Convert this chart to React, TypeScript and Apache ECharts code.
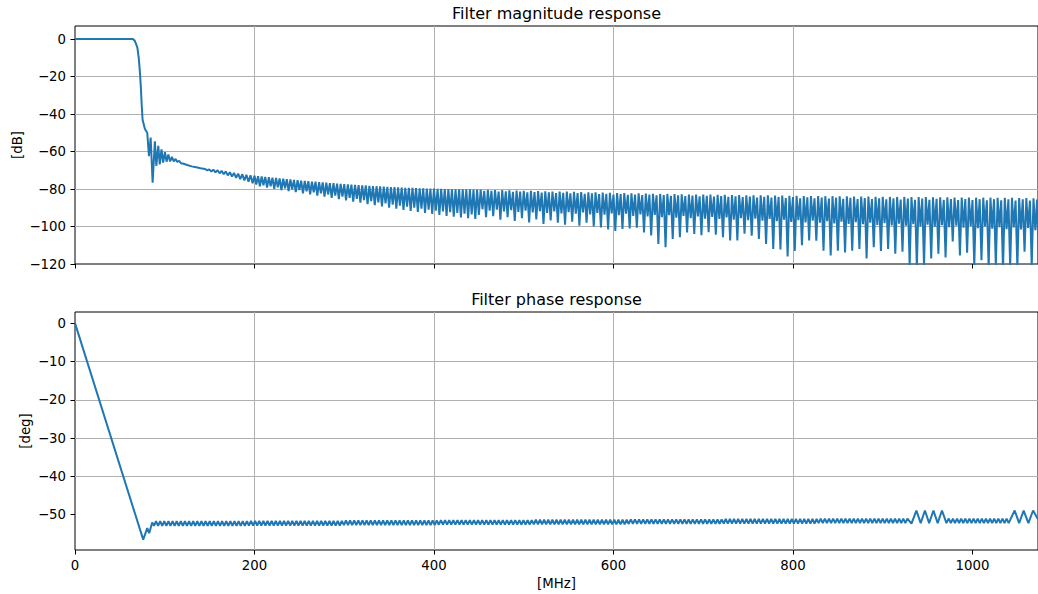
import { useEffect, useRef } from "react";
import * as echarts from "echarts";

const FONT = "DejaVu Sans";
const BLUE = "#1f77b4";

// ---------- tick labels ----------
const freqTicks = [0, 200, 400, 600, 800, 1000];
const dbTicks = [-120, -100, -80, -60, -40, -20, 0];
const degTicks = [-50, -40, -30, -20, -10, 0];

// ---------- magnitude response [dB] ----------
const magHeadFreq = [0, 20, 40, 60, 64.5, 66.5, 68, 69.5, 71, 72.4, 73.4, 74.2, 75.3, 77.9, 80.5, 82.4, 84.3, 86.5, 89, 90.6, 92.8, 94.4, 96.4, 98.2, 100.2, 102, 104, 106, 108, 110, 112, 114, 116, 118, 121, 125, 130, 135, 140, 145];
const magHeadDb = [0, 0, 0, 0, 0, -0.8, -2.5, -4.5, -10, -18, -26, -34, -43, -48, -50, -62.4, -52.5, -76.6, -54.5, -67.7, -57, -66.8, -58.8, -65.9, -60.3, -65.4, -61.6, -65.3, -62.8, -65.3, -63.9, -65.6, -64.9, -66.2, -66.5, -67.2, -67.9, -68.4, -68.9, -69.3];

// ripple segment A: starts 147.3 MHz, alternate trough/peak every 2.3 MHz
const magRippleA = [-70.0, -69.5, -70.6, -69.7, -71.1, -70.0, -71.6, -70.3, -72.1, -70.6, -72.7, -71.0, -73.3, -71.4, -74.0, -71.8, -74.7, -72.1, -75.4, -72.4, -76.1, -72.7, -76.9];

// ripple segment B: peaks at 200 + 4k, troughs at 202 + 4k
const magPeaksB = [
  -72.9, -73.1, -73.3, -73.5, -73.7, -73.9, -74.1, -74.3, -74.5, -74.7, -74.9, -75.1, -75.3, -75.5, -75.6, -75.8,
  -76.0, -76.1, -76.3, -76.5, -76.6, -76.8, -76.9, -77.1, -77.2, -77.4, -77.5, -77.6, -77.8, -77.9, -78.0, -78.1,
  -78.3, -78.4, -78.5, -78.6, -78.7, -78.8, -78.9, -79.0, -79.1, -79.2, -79.3, -79.3, -79.4, -79.5, -79.6, -79.6,
  -79.7, -79.8, -79.8, -79.9, -79.9, -80.0, -80.0, -80.1, -80.1, -80.1, -80.2, -80.2, -80.2, -80.3, -80.3,
];
const magTroughsB = [
  -77.6, -78.6, -78.0, -79.2, -78.6, -79.9, -79.1, -80.5, -79.6, -81.1, -80.1, -81.7, -80.6, -82.3, -81.2, -82.9,
  -81.7, -83.5, -82.3, -84.1, -82.9, -84.7, -83.5, -85.4, -84.1, -86.0, -84.7, -86.7, -85.3, -87.3, -85.9, -88.0,
  -86.5, -88.6, -87.1, -89.3, -87.7, -89.9, -88.3, -90.5, -88.9, -91.1, -89.4, -91.7, -90.0, -92.2, -90.5, -92.8,
  -91.0, -93.3, -91.5, -93.8, -92.0, -94.3, -92.4, -94.8, -92.8, -95.2, -93.2, -95.6, -93.5, -96.0, -93.8,
];

// ripple segment C (8 MHz cycles from 452 MHz): peak, mid trough, second peak, deep trough
const magPeaksC = [
  -80.3, -80.4, -80.5, -80.6, -80.7, -80.8, -80.9, -81.0, -81.1, -81.2, -81.3, -81.4, -81.4, -81.5, -81.6, -81.7, -81.8, -81.9,
  -82.0, -82.1, -82.2, -82.3, -82.3, -82.4, -82.5, -82.6, -82.6, -82.7, -82.8, -82.9,
  -82.9, -83.0, -83.0, -83.1, -83.1, -83.2, -83.2, -83.3, -83.3, -83.4, -83.4, -83.5,
  -83.5, -83.6, -83.6, -83.7, -83.7, -83.8, -83.8, -83.8, -83.9, -83.9, -84.0, -84.0,
  -84.0, -84.1, -84.1, -84.2, -84.2, -84.2, -84.3, -84.3, -84.3, -84.4, -84.4, -84.4,
  -84.5, -84.5, -84.5, -84.6, -84.6, -84.6, -84.7, -84.7, -84.7, -84.8, -84.8, -84.9,
];
const magMidTroughsC = [
  -90.8, -91.6, -91.0, -92.0, -91.3, -92.2, -91.5, -92.5, -91.8, -92.8, -92.0, -93.0, -92.3, -93.2, -92.5, -93.5, -92.8, -93.7,
  -93.0, -94.0, -93.2, -94.3, -93.5, -94.6, -93.8, -95.0, -94.0, -95.3, -94.3, -95.5,
  -94.6, -95.8, -94.9, -96.0, -95.2, -96.3, -95.5, -96.6, -95.8, -96.9, -96.0, -97.2,
  -96.3, -97.5, -96.6, -97.8, -96.9, -98.0, -97.2, -98.3, -97.4, -98.6, -97.7, -98.8,
  -98.0, -99.1, -98.2, -99.4, -98.5, -99.6, -98.8, -99.9, -99.0, -100.1, -99.3, -100.4,
  -99.5, -100.6, -99.8, -100.9, -100.0, -101.1, -100.3, -101.4, -100.5, -101.6, -100.8, -101.9,
];
const magPeaks2C = [
  -81.0, -80.9, -81.3, -81.2, -81.5, -81.4, -81.8, -81.6, -81.9, -81.8, -82.2, -82.0, -82.3, -82.1, -82.5, -82.3, -82.7, -82.5,
  -82.9, -82.7, -83.1, -82.9, -83.2, -83.0, -83.4, -83.2, -83.6, -83.3, -83.7, -83.5,
  -83.9, -83.6, -84.0, -83.8, -84.2, -83.9, -84.3, -84.0, -84.5, -84.1, -84.6, -84.2,
  -84.8, -84.3, -84.9, -84.4, -85.0, -84.5, -85.1, -84.6, -85.2, -84.7, -85.3, -84.8,
  -85.4, -84.9, -85.5, -85.0, -85.6, -85.1, -85.7, -85.1, -85.7, -85.2, -85.8, -85.3,
  -85.9, -85.3, -85.9, -85.4, -86.0, -85.4, -86.0, -85.5, -86.1, -85.5, -86.1, -85.6,
];
const magDeepTroughsC = [
  -95.0, -94.5, -96.3, -95.0, -97.0, -95.6, -97.8, -96.2, -98.6, -96.8,
  -98.0, -99.0, -97.4, -99.5, -98.0, -100.0, -100.5, -101.5, -102.3, -101.3,
  -101.0, -100.6, -103.2, -104.8, -109.3, -111.0, -106.6, -105.7, -103.2, -104.0,
  -104.6, -103.0, -104.4, -105.7, -107.5, -107.4, -103.8, -104.9, -106.6, -109.3,
  -112.0, -112.3, -116.0, -113.0, -110.0, -107.5, -107.6, -112.9, -115.5, -112.9,
  -113.8, -112.9, -112.0, -117.0, -111.0, -113.0, -112.0, -114.5, -113.5, -121.0,
  -122.0, -121.0, -117.0, -114.5, -116.5, -108.0, -115.5, -114.0, -121.0, -118.0,
  -122.0, -121.0, -123.0, -121.5, -122.0, -113.5, -121.0, -122.0,
];

// ---------- phase response [deg] ----------
const phaseHeadFreq = [0, 76, 80.5, 82.7, 86];
const phaseHeadDeg = [0, -56.5, -53.5, -54.8, -52.0];

// segment 1: lows at 88 + 4.6k, highs at 90.3 + 4.6k
const phaseLows1 = [
  -52.9, -52.9, -52.9, -52.9, -52.9, -52.9, -52.9, -52.9, -52.9, -52.9, -52.9, -52.9, -52.9, -52.9, -52.9, -52.9, -52.9, -52.9, -52.9, -52.9, -52.9, -52.9, -52.9,
  -52.8, -52.8, -52.8, -52.8, -52.8, -52.8, -52.8, -52.8, -52.8, -52.8, -52.8, -52.8, -52.8, -52.8, -52.8, -52.8, -52.8, -52.8, -52.8, -52.8, -52.8, -52.8, -52.8,
  -52.7, -52.7, -52.7, -52.7, -52.7, -52.7, -52.7, -52.7, -52.7, -52.7, -52.7, -52.7, -52.7, -52.7, -52.7, -52.7, -52.7, -52.7, -52.7, -52.7, -52.7, -52.7, -52.7,
  -52.6, -52.6, -52.6, -52.6, -52.6, -52.6, -52.6, -52.6, -52.6, -52.6, -52.6, -52.6, -52.6, -52.6, -52.6, -52.6, -52.6, -52.6, -52.6, -52.6, -52.6, -52.6, -52.6,
  -52.5, -52.5, -52.5, -52.5, -52.5, -52.5, -52.5, -52.5, -52.5, -52.5, -52.5, -52.5, -52.5, -52.5, -52.5, -52.5, -52.5, -52.5, -52.5, -52.5, -52.5, -52.5, -52.5,
  -52.4, -52.4, -52.4, -52.4, -52.4, -52.4, -52.4, -52.4, -52.4, -52.4, -52.4, -52.4, -52.4, -52.4, -52.4, -52.4, -52.4, -52.4, -52.4, -52.4, -52.4, -52.4, -52.4,
  -52.3, -52.3, -52.3, -52.3, -52.3, -52.3, -52.3, -52.3, -52.3, -52.3, -52.3, -52.3, -52.3, -52.3, -52.3, -52.3, -52.3, -52.3, -52.3, -52.3, -52.3, -52.3, -52.3,
  -52.2, -52.2, -52.2, -52.2, -52.2, -52.2, -52.2, -52.2, -52.2, -52.2, -52.2, -52.2, -52.2, -52.2, -52.2, -52.2, -52.2, -52.2, -52.2, -52.2, -52.2, -52.2,
];
const phaseHighs1 = [
  -51.7, -51.7, -51.7, -51.7, -51.7, -51.7, -51.7, -51.7, -51.7, -51.7, -51.7, -51.7, -51.7, -51.7, -51.7, -51.7, -51.7, -51.7, -51.7, -51.7, -51.7, -51.7, -51.7,
  -51.6, -51.6, -51.6, -51.6, -51.6, -51.6, -51.6, -51.6, -51.6, -51.6, -51.6, -51.6, -51.6, -51.6, -51.6, -51.6, -51.6, -51.6, -51.6, -51.6, -51.6, -51.6, -51.6,
  -51.5, -51.5, -51.5, -51.5, -51.5, -51.5, -51.5, -51.5, -51.5, -51.5, -51.5, -51.5, -51.5, -51.5, -51.5, -51.5, -51.5, -51.5, -51.5, -51.5, -51.5, -51.5, -51.5,
  -51.4, -51.4, -51.4, -51.4, -51.4, -51.4, -51.4, -51.4, -51.4, -51.4, -51.4, -51.4, -51.4, -51.4, -51.4, -51.4, -51.4, -51.4, -51.4, -51.4, -51.4, -51.4, -51.4,
  -51.3, -51.3, -51.3, -51.3, -51.3, -51.3, -51.3, -51.3, -51.3, -51.3, -51.3, -51.3, -51.3, -51.3, -51.3, -51.3, -51.3, -51.3, -51.3, -51.3, -51.3, -51.3, -51.3,
  -51.2, -51.2, -51.2, -51.2, -51.2, -51.2, -51.2, -51.2, -51.2, -51.2, -51.2, -51.2, -51.2, -51.2, -51.2, -51.2, -51.2, -51.2, -51.2, -51.2, -51.2, -51.2, -51.2,
  -51.1, -51.1, -51.1, -51.1, -51.1, -51.1, -51.1, -51.1, -51.1, -51.1, -51.1, -51.1, -51.1, -51.1, -51.1, -51.1, -51.1, -51.1, -51.1, -51.1, -51.1, -51.1, -51.1,
  -51.0, -51.0, -51.0, -51.0, -51.0, -51.0, -51.0, -51.0, -51.0, -51.0, -51.0, -51.0, -51.0, -51.0, -51.0, -51.0, -51.0, -51.0, -51.0, -51.0, -51.0, -51.0,
];
// first burst of larger ripples
const phaseBurst1Freq = [932, 937.5, 942.3, 947, 951.7, 956.5, 961.2, 966, 971];
const phaseBurst1Deg = [-52.3, -48.9, -52.2, -48.9, -52.2, -48.9, -52.2, -48.9, -52.2];
// segment 2: highs at 973.6 + 4.6k, lows at 975.9 + 4.6k
const phaseHighs2 = [-51.0, -51.0, -51.0, -51.0, -51.0, -51.0, -51.0, -51.0, -51.0, -51.0, -51.0, -51.0, -51.0, -51.0, -51.0];
const phaseLows2 = [-52.2, -52.2, -52.2, -52.2, -52.2, -52.2, -52.2, -52.2, -52.2, -52.2, -52.2, -52.2, -52.2, -52.2, -52.2];
// second burst
const phaseBurst2Freq = [1047, 1052, 1057, 1062.3, 1067.5, 1073];
const phaseBurst2Deg = [-48.9, -52.2, -48.9, -52.2, -48.9, -51.2];

// ---------- builders ----------
const pairs = (xs: number[], ys: number[]) => xs.map((x, i) => [x, ys[i]]);
const interleave = (...lists: number[][]) => {
  const out: number[] = [];
  const n = Math.max(...lists.map((l) => l.length));
  for (let i = 0; i < n; i++) {
    for (const l of lists) if (i < l.length) out.push(l[i]);
  }
  return out;
};
const evenly = (start: number, step: number, vals: number[]) => vals.map((v, i) => [start + i * step, v]);

const magData = [
  ...pairs(magHeadFreq, magHeadDb),
  ...evenly(147.3, 2.3, magRippleA),
  ...evenly(200, 2, interleave(magPeaksB, magTroughsB)),
  ...evenly(452, 2, interleave(magPeaksC, magMidTroughsC, magPeaks2C, magDeepTroughsC)),
];
const phaseData = [
  ...pairs(phaseHeadFreq, phaseHeadDeg),
  ...evenly(88, 2.3, interleave(phaseLows1, phaseHighs1)),
  ...pairs(phaseBurst1Freq, phaseBurst1Deg),
  ...evenly(973.6, 2.3, interleave(phaseHighs2, phaseLows2)),
  ...pairs(phaseBurst2Freq, phaseBurst2Deg),
];

const fmt = (v: number) => String(v).replace("-", "\u2212");

const xAxisBase = (gridIndex: number, showLabels: boolean) => ({
  type: "value" as const,
  gridIndex,
  min: 0,
  max: 1073,
  interval: 200,
  axisLine: { show: false, onZero: false },
  axisTick: { show: true, length: 4.5, customValues: freqTicks, lineStyle: { color: "#000", width: 1 } },
  axisLabel: {
    show: showLabels,
    customValues: freqTicks,
    margin: 9,
    fontFamily: FONT,
    fontSize: 13.3,
    color: "#000",
    formatter: fmt,
  },
  splitLine: { show: true, showMinLine: false, showMaxLine: false, lineStyle: { color: "#b0b0b0", width: 1 } },
});

const yAxisBase = (gridIndex: number, min: number, max: number, step: number, ticks: number[], name: string, nameGap: number) => ({
  type: "value" as const,
  gridIndex,
  min,
  max,
  splitNumber: 6,
  minInterval: step,
  maxInterval: step,
  name,
  nameLocation: "middle" as const,
  nameGap,
  nameMoveOverlap: false,
  nameTextStyle: { fontFamily: FONT, fontSize: 13.3, color: "#000" },
  axisLine: { show: false, onZero: false },
  axisTick: { show: true, length: 4.5, customValues: ticks, lineStyle: { color: "#000", width: 1 } },
  axisLabel: {
    customValues: ticks,
    margin: 9,
    fontFamily: FONT,
    fontSize: 13.3,
    color: "#000",
    formatter: fmt,
  },
  splitLine: { show: true, showMinLine: false, showMaxLine: false, lineStyle: { color: "#b0b0b0", width: 1 } },
});

export default function App() {
  const ref = useRef<HTMLDivElement>(null);
  useEffect(() => {
    if (!ref.current) return;
    const chart = echarts.init(ref.current, null, { renderer: "svg" });
    chart.setOption({
      animation: false,
      backgroundColor: "#fff",
      grid: [
        { left: 75, right: 0, top: 26, height: 238, show: true, borderColor: "#000", borderWidth: 1, backgroundColor: "transparent" },
        { left: 75, right: 0, top: 312, height: 238, show: true, borderColor: "#000", borderWidth: 1, backgroundColor: "transparent" },
      ],
      xAxis: [
        xAxisBase(0, false),
        {
          ...xAxisBase(1, true),
          name: "[MHz]",
          nameLocation: "middle",
          nameGap: 27,
          nameMoveOverlap: false,
          nameTextStyle: { fontFamily: FONT, fontSize: 13.3, color: "#000" },
        },
      ],
      yAxis: [
        yAxisBase(0, -120, 7, 20, dbTicks, "[dB]", 51),
        yAxisBase(1, -59.2, 2.9, 10, degTicks, "[deg]", 43),
      ],
      graphic: [
        { type: "text", x: 556.5, y: 13, style: { text: "Filter magnitude response", fontFamily: FONT, fontSize: 16, fill: "#000", textAlign: "center", textVerticalAlign: "middle" } },
        { type: "text", x: 556.5, y: 299, style: { text: "Filter phase response", fontFamily: FONT, fontSize: 16, fill: "#000", textAlign: "center", textVerticalAlign: "middle" } },
      ],
      series: [
        {
          type: "line",
          xAxisIndex: 0,
          yAxisIndex: 0,
          data: magData,
          showSymbol: false,
          symbol: "none",
          clip: true,
          lineStyle: { color: BLUE, width: 2 },
        },
        {
          type: "line",
          xAxisIndex: 1,
          yAxisIndex: 1,
          data: phaseData,
          showSymbol: false,
          symbol: "none",
          clip: true,
          lineStyle: { color: BLUE, width: 2 },
        },
      ],
    });
    return () => chart.dispose();
  }, []);
  return <div ref={ref} style={{ position: "fixed", left: 0, top: 0, width: 1038, height: 594, background: "#fff" }} />;
}
